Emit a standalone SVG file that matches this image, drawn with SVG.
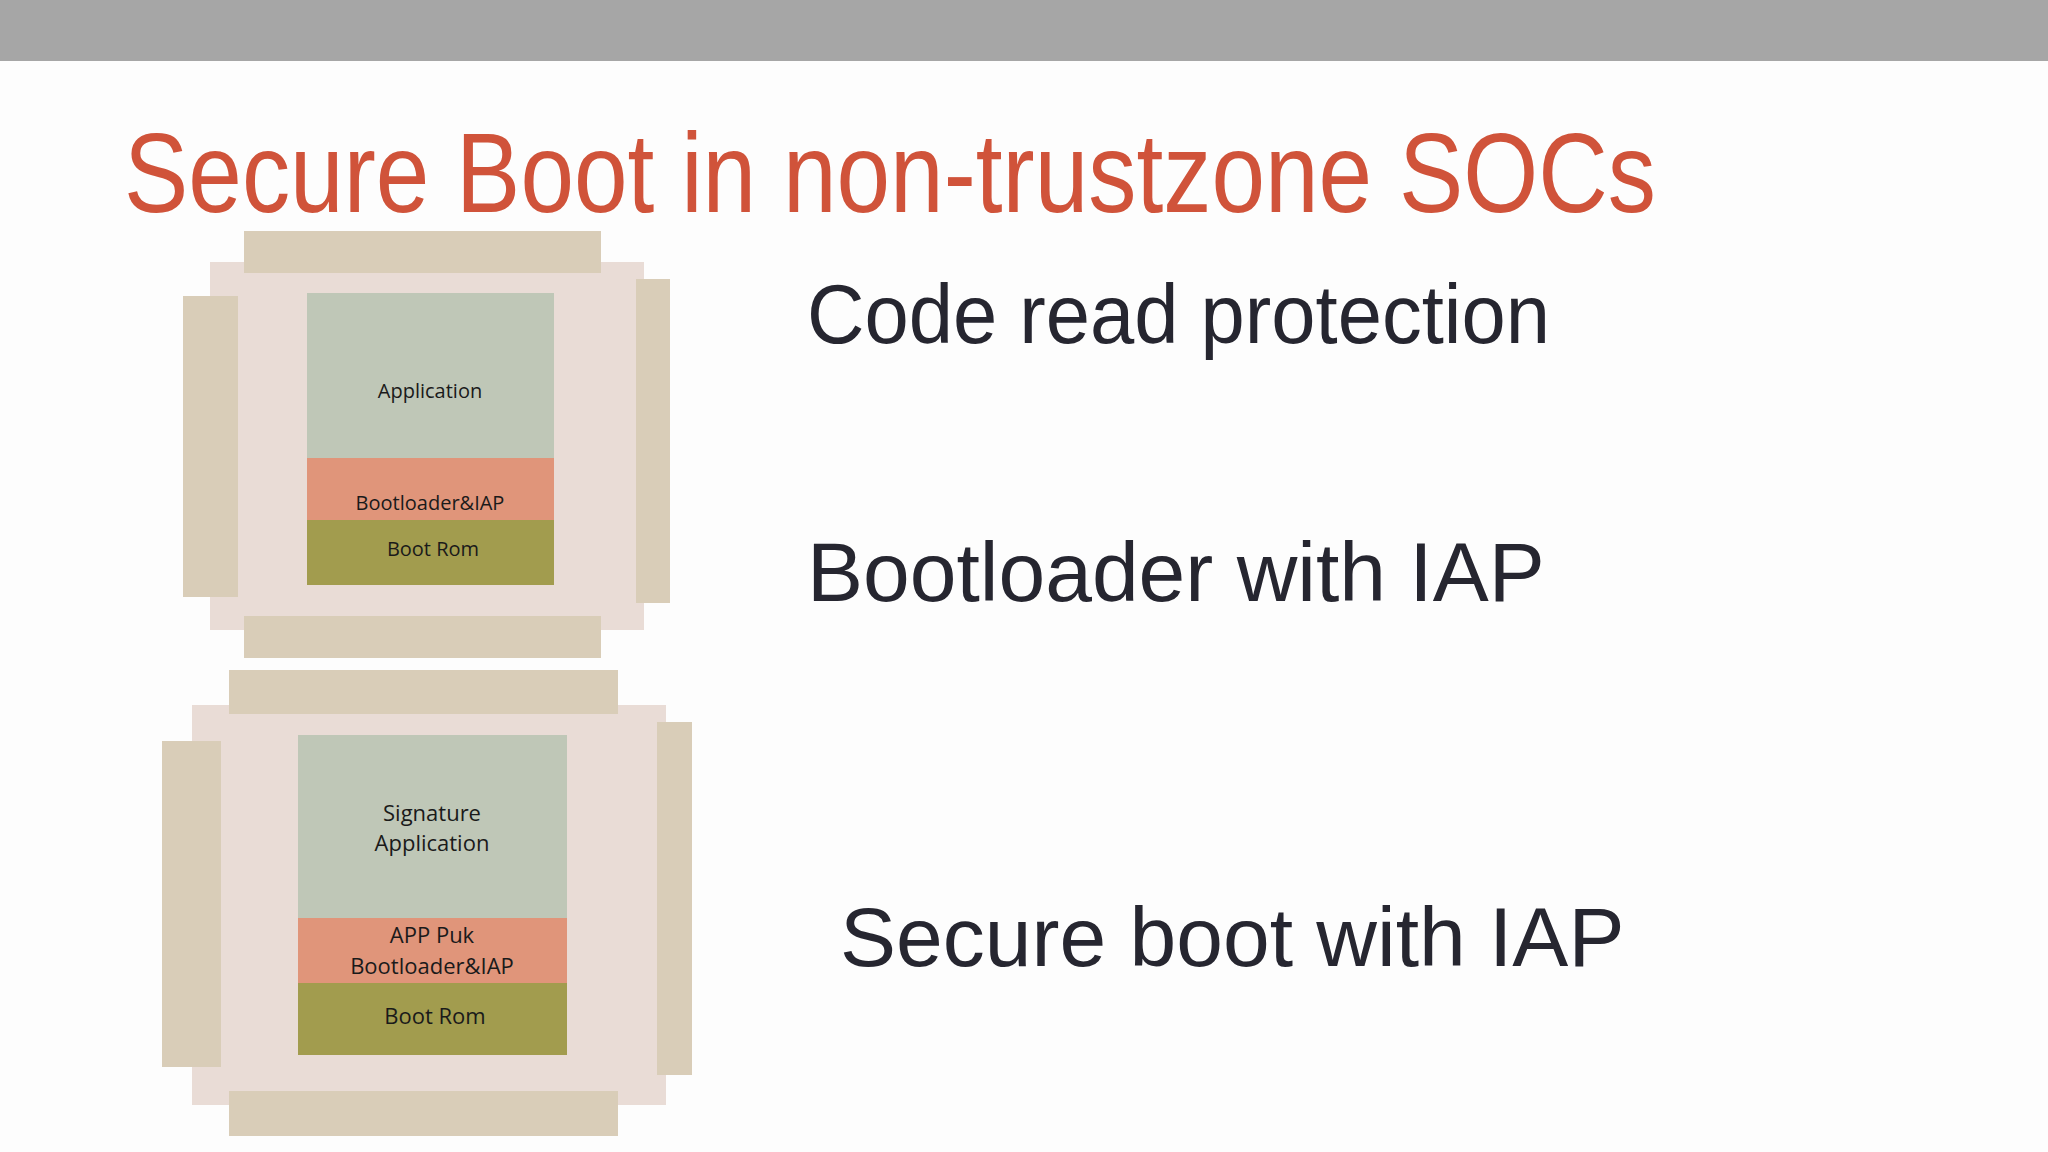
<svg xmlns="http://www.w3.org/2000/svg" width="2048" height="1152" viewBox="0 0 2048 1152">
<style>
.body{fill:#e9dcd6}.tab{fill:#d9cdb8}.app{fill:#bfc7b7}.bl{fill:#e0957a}.rom{fill:#a29c4e}
.lbl{font-family:"Open Sans","Noto Sans",sans-serif;fill:#1a1a1a;text-anchor:middle}
.big{font-family:"Liberation Sans",Arial,sans-serif;font-size:84px;fill:#262630}
</style>
<rect width="2048" height="1152" fill="#fdfdfd"/>
<rect width="2048" height="61" fill="#a6a6a6"/>
<text x="124" y="212" font-family="Liberation Sans, Arial, sans-serif" font-size="113" fill="#d0533a" textLength="1532" lengthAdjust="spacingAndGlyphs">Secure Boot in non-trustzone SOCs</text>
<g id="chip1">
<rect class="body" x="210" y="262" width="434" height="368"/>
<rect class="tab" x="244" y="231" width="357" height="42"/>
<rect class="tab" x="244" y="616" width="357" height="42"/>
<rect class="tab" x="183" y="296" width="55" height="301"/>
<rect class="tab" x="636" y="279" width="34" height="324"/>
<rect class="app" x="307" y="293" width="247" height="165"/>
<rect class="bl" x="307" y="458" width="247" height="62"/>
<rect class="rom" x="307" y="520" width="247" height="65"/>
<text class="lbl" x="430" y="398" font-size="20">Application</text>
<text class="lbl" x="430" y="510" font-size="20">Bootloader&amp;IAP</text>
<text class="lbl" x="433" y="556" font-size="20">Boot Rom</text>
</g>
<g id="chip2">
<rect class="body" x="192" y="705" width="474" height="400"/>
<rect class="tab" x="229" y="670" width="389" height="44"/>
<rect class="tab" x="229" y="1091" width="389" height="45"/>
<rect class="tab" x="162" y="741" width="59" height="326"/>
<rect class="tab" x="657" y="722" width="35" height="353"/>
<rect class="app" x="298" y="735" width="269" height="183"/>
<rect class="bl" x="298" y="918" width="269" height="65"/>
<rect class="rom" x="298" y="983" width="269" height="72"/>
<text class="lbl" x="432" y="821" font-size="22">Signature</text>
<text class="lbl" x="432" y="851" font-size="22">Application</text>
<text class="lbl" x="432" y="943" font-size="22">APP Puk</text>
<text class="lbl" x="432" y="974" font-size="22">Bootloader&amp;IAP</text>
<text class="lbl" x="435" y="1024" font-size="22">Boot Rom</text>
</g>
<g id="labels">
<text class="big" x="807" y="343" textLength="743" lengthAdjust="spacingAndGlyphs">Code read protection</text>
<text class="big" x="807" y="601">Bootloader with IAP</text>
<text class="big" x="840" y="966">Secure boot with IAP</text>
</g>
</svg>
